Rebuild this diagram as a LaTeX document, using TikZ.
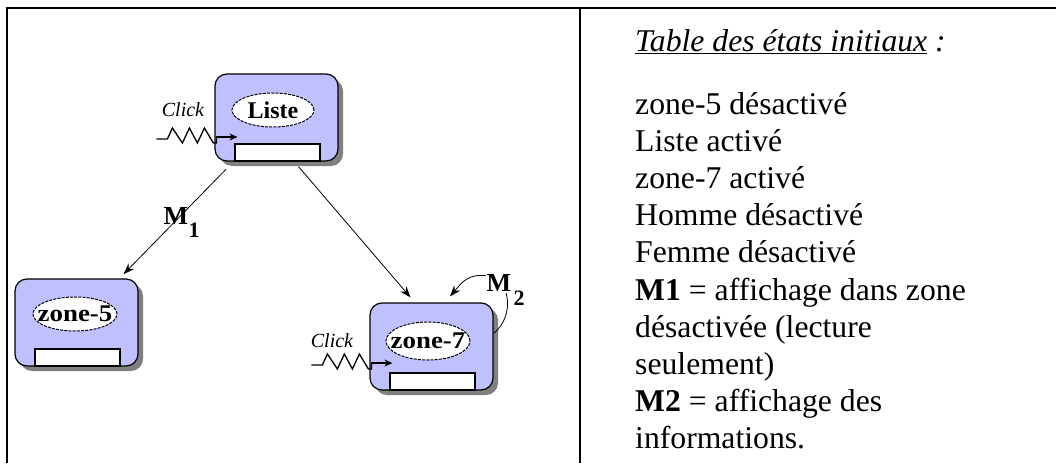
\documentclass[tikz,border=0pt]{standalone}
\usepackage{fontspec}
\setmainfont{Liberation Serif}
\usetikzlibrary{shapes.geometric,arrows.meta,shadows}
\definecolor{boxfill}{RGB}{192,192,255}
\definecolor{shade}{RGB}{128,128,128}
\tikzset{
  statebox/.style={draw=black,line width=1.2pt,fill=boxfill,rounded corners=12pt,
    minimum width=123pt,minimum height=87pt,inner sep=0pt,
    drop shadow={shadow xshift=5pt,shadow yshift=-5pt,fill=shade,opacity=1}},
  namebox/.style={ellipse,draw=black,line width=1pt,dash pattern=on 3pt off 1.2pt,fill=white,
    minimum width=82pt,minimum height=34pt,inner sep=0pt},
  namelbl/.style={font=\fontsize{24}{24}\selectfont\bfseries,inner sep=0pt},
  fieldbox/.style={draw=black,line width=1.2pt,fill=white,minimum width=85pt,minimum height=17pt,inner sep=0pt,anchor=south},
  conn/.style={line width=0.8pt,-{Stealth[length=11pt,width=8pt]}},
  clicklbl/.style={font=\fontsize{20}{20}\selectfont\itshape,inner sep=0pt},
  mlbl/.style={font=\fontsize{26}{26}\selectfont\bfseries,inner sep=0pt},
  mnum/.style={font=\fontsize{22}{22}\selectfont\bfseries,inner sep=0pt},
  txt/.style={font=\fontsize{31.7}{37}\selectfont,anchor=base west,inner sep=0pt},
  tblline/.style={line width=2.5pt},
  clickzz/.pic={
    \draw[line width=1.3pt] (0,0) -- (11,0) -- (16,-11) -- (26,4) -- (33,-11) -- (41,4) -- (48,-11) -- (57,4) -- (60,4) -- (60,-2);
    \draw[line width=1.3pt,-{Stealth[length=8pt,width=7pt]}] (60,-2) -- (81,-2);
  }
}
\begin{document}
\begin{tikzpicture}[x=1pt,y=-1pt]
\useasboundingbox[fill=white] (0,0) rectangle (1056,463);
% table frame
\draw[tblline] (7,8) -- (1056,8);
\draw[tblline] (7,6.75) -- (7,463);
\draw[tblline] (580,8) -- (580,463);

% state boxes
\node[statebox] (liste) at (276.5,117.5) {};
\node[statebox] (zone5) at (76.5,322.5) {};
\node[statebox] (zone7) at (431.5,346.5) {};

\node[namebox] (listeE) at (273,110) {};
\node[namelbl] (listeT) at (listeE) {Liste};
\node[namebox,minimum width=84pt] (zone5E) at (75,314) {};
\node[namelbl] (zone5T) at (zone5E) {\scalebox{1.12}[1]{zone-5}};
\node[namebox,minimum width=84pt,minimum height=38pt] (zone7E) at (428,341) {};
\node[namelbl] (zone7T) at (zone7E) {\scalebox{1.12}[1]{zone-7}};

\node[fieldbox] (listeF) at ([xshift=1pt]liste.south) {};
\node[fieldbox] (zone5F) at ([xshift=1pt]zone5.south) {};
\node[fieldbox] (zone7F) at ([xshift=1pt]zone7.south) {};

% click inputs
\pic at ([xshift=-58pt,yshift=-21.5pt]liste.west) {clickzz};
\pic at ([xshift=-58pt,yshift=-18.5pt]zone7.west) {clickzz};
\node[clicklbl] (click1) at (183,110) {Click};
\node[clicklbl] (click2) at (332,341) {Click};

% connectors
\draw[conn,shorten <=11pt,shorten >=6pt] (liste) -- (zone5);
\draw[conn] ([xshift=22pt,yshift=-5pt]liste.south) -- ([xshift=-21pt,yshift=5pt]zone7.north);
\node[mlbl] (m1) at (176,216) {M};
\node[mnum] (m1n) at (194,230) {1};

\coordinate (loopTop) at (488,276);
\draw[conn] ([yshift=13pt]zone7.east) .. controls +(22,-18) and +(22,3) .. (loopTop)
  .. controls +(-20,-3) and +(12,-14) .. ([xshift=18.5pt,yshift=6pt]zone7.north);
\node[mlbl,fill=white,inner sep=1pt] (m2) at (499,283) {M};
\node[mnum] (m2n) at (519,298) {2};

% right panel
\node[txt] (title) at (635,51) {\itshape\underline{Table des états initiaux} :};
\node[txt] (l1) at (635,114) {zone-5 désactivé};
\node[txt] (l2) at (635,151.2) {Liste activé};
\node[txt] (l3) at (635,188.4) {zone-7 activé};
\node[txt] (l4) at (635,225.6) {Homme désactivé};
\node[txt] (l5) at (635,262.8) {Femme désactivé};
\node[txt] (l6) at (635,300) {\textbf{M1} = affichage dans zone};
\node[txt] (l7) at (635,337.2) {désactivée (lecture};
\node[txt] (l8) at (635,374.4) {seulement)};
\node[txt] (l9) at (635,411.6) {\textbf{M2} = affichage des};
\node[txt] (l10) at (635,448.8) {informations.};
\end{tikzpicture}
\end{document}
